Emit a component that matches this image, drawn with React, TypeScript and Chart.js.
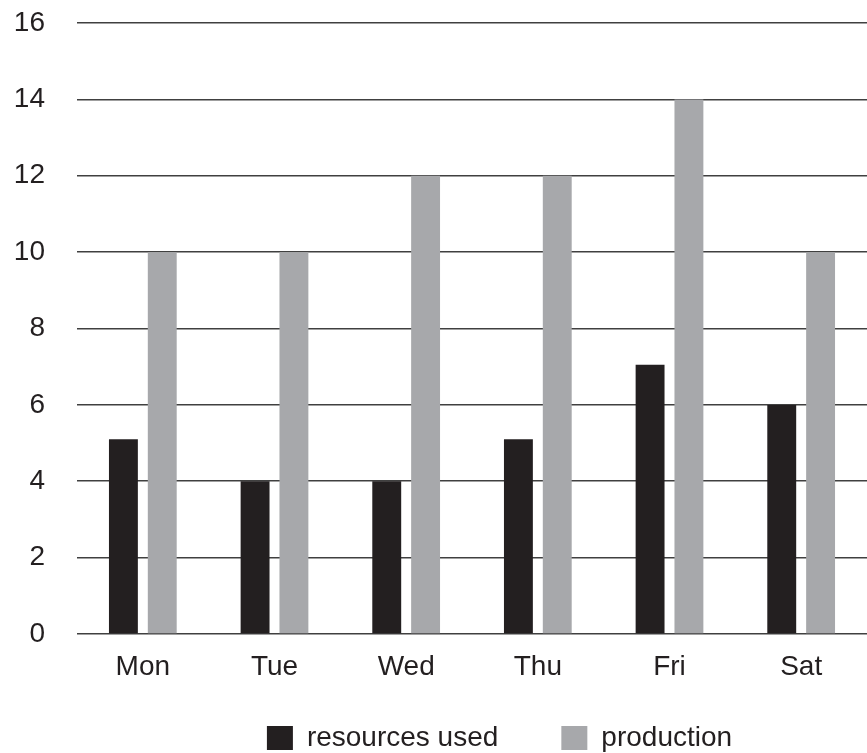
import React, { useEffect, useRef } from "react";
import { Chart, registerables } from "chart.js";

Chart.register(...registerables);

const categories = ["Mon", "Tue", "Wed", "Thu", "Fri", "Sat"];
const resourcesUsed = [5.1, 4, 4, 5.1, 7.05, 6];
const production = [10, 10, 12, 12, 14, 10];
const seriesNames = ["resources used", "production"];
const seriesColors = ["#231f20", "#a7a8ab"];

const FONT = "'Liberation Sans', Arial, Helvetica, sans-serif";

const legendShift = {
  id: "legendShift",
  afterLayout(chart: any) {
    const lg = chart.legend;
    if (lg) {
      lg.left += 66;
      lg.right += 66;
      lg.top -= 25;
      lg.bottom -= 25;
    }
  },
};

export default function App() {
  const ref = useRef<HTMLCanvasElement | null>(null);

  useEffect(() => {
    document.body.style.margin = "0";
    if (!ref.current) return;
    const chart = new Chart(ref.current, {
      type: "bar",
      data: {
        labels: categories,
        datasets: [
          {
            label: seriesNames[0],
            data: resourcesUsed,
            backgroundColor: seriesColors[0],
            categoryPercentage: 0.59,
            barPercentage: 0.744,
          },
          {
            label: seriesNames[1],
            data: production,
            backgroundColor: seriesColors[1],
            categoryPercentage: 0.59,
            barPercentage: 0.744,
          },
        ],
      },
      plugins: [legendShift],
      options: {
        animation: false,
        responsive: false,
        devicePixelRatio: 1,
        layout: { padding: { left: 0, right: 0, top: 23, bottom: -34 } },
        plugins: {
          tooltip: { enabled: false },
          legend: {
            position: "bottom",
            labels: {
              boxWidth: 26,
              boxHeight: 24,
              padding: 63,
              color: "#231f20",
              font: { family: FONT, size: 28 },
            },
          },
        },
        scales: {
          x: {
            grid: { display: false, drawTicks: false },
            border: { display: false },
            ticks: {
              color: "#231f20",
              padding: 16,
              font: { family: FONT, size: 28 },
            },
            afterFit: (scale: any) => {
              scale.height = 52;
            },
          },
          y: {
            min: 0,
            max: 16,
            grid: { color: "#404040", lineWidth: 1.6, drawTicks: false },
            border: { display: false },
            ticks: {
              stepSize: 2,
              color: "#231f20",
              padding: 32,
              font: { family: FONT, size: 28 },
            },
            afterFit: (scale: any) => {
              scale.width = 77;
              scale.paddingTop = 0;
              scale.paddingBottom = 0;
            },
          },
        },
      },
    });
    return () => chart.destroy();
  }, []);

  return (
    <div style={{ position: "absolute", left: 0, top: 0, width: 867, height: 753 }}>
      <canvas ref={ref} width={867} height={753} style={{ width: 867, height: 753 }} />
    </div>
  );
}
